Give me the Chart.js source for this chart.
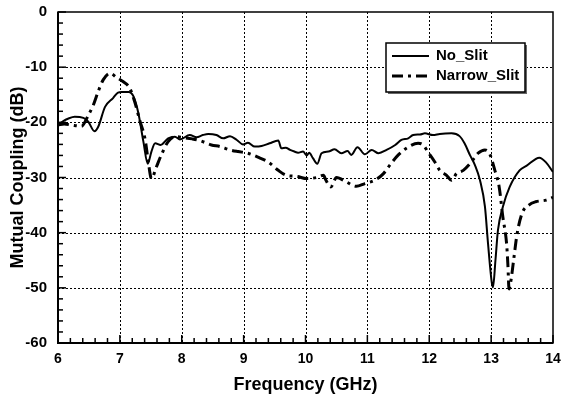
<!DOCTYPE html>
<html lang="en">
<head>
  <meta charset="UTF-8" />
  <title>Mutual Coupling</title>
  <script src="https://cdn.jsdelivr.net/npm/chart.js"></script>
  <style>
    html, body {
      margin: 0;
      padding: 0;
      background: #fff;
    }
  </style>
</head>
<body>
  <canvas id="couplingChart" width="563" height="402"></canvas>

  <script>
    const FREQ_TICKS = [6, 7, 8, 9, 10, 11, 12, 13, 14];
    const DB_TICKS = [0, -10, -20, -30, -40, -50, -60];
    const SERIES_NAMES = ['No_Slit', 'Narrow_Slit'];

    const noSlitFreq = [6.00, 6.08, 6.17, 6.27, 6.41, 6.49, 6.59, 6.65, 6.76, 6.89, 6.97, 7.03, 7.14, 7.22, 7.30, 7.38,
      7.45, 7.51, 7.57, 7.66, 7.78, 7.89, 7.97, 8.13, 8.24, 8.34, 8.43, 8.56, 8.67, 8.78, 8.89, 8.99,
      9.07, 9.18, 9.29, 9.42, 9.56, 9.61, 9.68, 9.75, 9.82, 9.88, 9.96, 10.02, 10.06, 10.12, 10.19, 10.26,
      10.37, 10.47, 10.58, 10.68, 10.74, 10.84, 10.96, 11.07, 11.18, 11.31, 11.45, 11.55, 11.66, 11.74, 11.85, 11.93,
      12.06, 12.17, 12.36, 12.49, 12.57, 12.66, 12.74, 12.82, 12.90, 12.95, 13.01, 13.03, 13.07, 13.11, 13.19, 13.30,
      13.46, 13.57, 13.78, 13.89, 14.00];
    const noSlitDb = [-20.5, -19.8, -19.3, -19.0, -19.2, -19.9, -21.6, -20.8, -17.2, -15.6, -14.6, -14.5, -14.5, -15.3, -18.4, -23.5,
      -27.5, -25.3, -23.8, -24.1, -22.9, -22.6, -23.1, -22.3, -22.7, -22.3, -22.1, -22.3, -22.9, -22.5, -23.2, -24.0,
      -23.7, -24.4, -24.3, -23.8, -23.3, -24.7, -24.6, -25.0, -25.3, -25.5, -25.3, -26.0, -25.5, -26.5, -27.5, -25.6,
      -25.3, -24.9, -25.6, -25.2, -25.9, -24.5, -25.8, -25.0, -25.6, -25.0, -24.1, -23.2, -22.9, -22.3, -22.2, -22.0,
      -22.3, -22.1, -22.0, -22.5, -23.8, -26.0, -27.8, -30.5, -35.3, -42.0, -49.0, -49.9, -45.0, -39.6, -35.3, -31.7,
      -28.7, -27.9, -26.4, -27.3, -29.0];

    const narrowFreq = [6.00, 6.10, 6.22, 6.38, 6.49, 6.57, 6.65, 6.73, 6.84, 6.95, 7.05, 7.16, 7.24, 7.32, 7.41, 7.46,
      7.51, 7.59, 7.67, 7.78, 7.89, 8.05, 8.17, 8.29, 8.48, 8.62, 8.78, 8.91, 9.07, 9.25, 9.40, 9.56,
      9.69, 9.86, 10.02, 10.18, 10.29, 10.33, 10.41, 10.50, 10.66, 10.82, 10.96, 11.12, 11.26, 11.36, 11.50, 11.63,
      11.82, 11.90, 11.98, 12.09, 12.17, 12.28, 12.36, 12.44, 12.55, 12.68, 12.79, 12.90, 12.98, 13.06, 13.13, 13.19,
      13.25, 13.27, 13.29, 13.32, 13.37, 13.42, 13.50, 13.61, 13.72, 13.89, 14.00];
    const narrowDb = [-20.5, -20.3, -20.5, -20.7, -18.7, -16.9, -14.4, -12.3, -11.1, -11.9, -12.6, -13.8, -16.3, -19.6, -23.2, -27.2,
      -30.2, -28.1, -25.9, -23.5, -22.6, -22.8, -23.0, -23.3, -24.1, -24.4, -25.0, -25.3, -25.6, -26.4, -27.2, -28.7,
      -29.6, -29.8, -30.2, -30.0, -29.6, -30.5, -31.7, -30.0, -30.8, -31.6, -31.1, -30.5, -29.3, -27.8, -25.9, -24.7,
      -23.8, -24.1, -25.4, -27.2, -28.7, -29.6, -30.5, -29.3, -28.7, -27.2, -25.6, -25.0, -25.8, -28.7, -31.7, -37.2,
      -42.0, -45.6, -50.2, -48.7, -44.4, -40.2, -36.5, -35.0, -34.4, -34.1, -33.6];

    const FONT = '"Liberation Sans", Arial, sans-serif';

    function toPoints(xs, ys) {
      return xs.map((x, i) => ({ x: x, y: ys[i] }));
    }

    // dotted grid under the curves, axes + inward ticks + legend on top
    const framePlugin = {
      id: 'frame',
      beforeDatasetsDraw(chart) {
        const { ctx, chartArea: a, scales } = chart;
        ctx.save();
        ctx.strokeStyle = '#000';
        ctx.lineWidth = 1;
        ctx.setLineDash([2, 2]);
        FREQ_TICKS.slice(1, -1).forEach(f => {
          const x = Math.round(scales.x.getPixelForValue(f)) + 0.5;
          ctx.beginPath();
          ctx.moveTo(x, a.top);
          ctx.lineTo(x, a.bottom);
          ctx.stroke();
        });
        DB_TICKS.slice(1, -1).forEach(v => {
          const y = Math.round(scales.y.getPixelForValue(v)) + 0.5;
          ctx.beginPath();
          ctx.moveTo(a.left, y);
          ctx.lineTo(a.right, y);
          ctx.stroke();
        });
        ctx.restore();
      },
      afterDatasetsDraw(chart) {
        const { ctx, chartArea: a, scales } = chart;
        ctx.save();
        ctx.strokeStyle = '#000';
        ctx.setLineDash([]);

        // frame
        ctx.lineWidth = 1.5;
        ctx.strokeRect(a.left, a.top, a.right - a.left, a.bottom - a.top);
        ctx.lineWidth = 2;
        ctx.beginPath();
        ctx.moveTo(a.left, a.top);
        ctx.lineTo(a.left, a.bottom);
        ctx.lineTo(a.right, a.bottom);
        ctx.stroke();

        // x ticks, minor every 0.2
        ctx.lineWidth = 1.5;
        for (let f = scales.x.min; f <= scales.x.max + 1e-6; f += 0.2) {
          const major = Math.abs(f - Math.round(f)) < 1e-6;
          const x = scales.x.getPixelForValue(f);
          ctx.beginPath();
          ctx.moveTo(x, a.bottom);
          ctx.lineTo(x, a.bottom - (major ? 8 : 5));
          ctx.stroke();
        }
        // y ticks, minor every 2
        for (let v = scales.y.min; v <= scales.y.max + 1e-6; v += 2) {
          const major = Math.abs(v % 10) < 1e-6;
          const y = scales.y.getPixelForValue(v);
          ctx.beginPath();
          ctx.moveTo(a.left, y);
          ctx.lineTo(a.left + (major ? 8 : 5), y);
          ctx.stroke();
        }

        // legend box
        const bx = 386, by = 43, bw = 139, bh = 49;
        ctx.fillStyle = '#666';
        ctx.fillRect(bx + 2, by + 2, bw, bh);
        ctx.fillStyle = '#fff';
        ctx.fillRect(bx, by, bw, bh);
        ctx.lineWidth = 1.5;
        ctx.strokeRect(bx, by, bw, bh);

        ctx.font = 'bold 15px ' + FONT;
        ctx.textBaseline = 'middle';
        ctx.fillStyle = '#000';
        chart.data.datasets.forEach((ds, i) => {
          const y = by + 13 + i * 20;
          ctx.lineWidth = ds.borderWidth;
          ctx.setLineDash(ds.borderDash || []);
          ctx.beginPath();
          ctx.moveTo(bx + 6, y);
          ctx.lineTo(bx + 43, y);
          ctx.stroke();
          ctx.setLineDash([]);
          ctx.fillText(ds.label, bx + 50, y);
        });
        ctx.restore();
      }
    };

    Chart.defaults.font.family = FONT;
    Chart.defaults.color = '#000';

    const ctx = document.getElementById('couplingChart').getContext('2d');
    const chart = new Chart(ctx, {
      type: 'line',
      data: {
        datasets: [
          {
            label: SERIES_NAMES[0],
            data: toPoints(noSlitFreq, noSlitDb),
            borderColor: '#000',
            borderWidth: 2,
            pointRadius: 0,
            cubicInterpolationMode: 'monotone',
            fill: false
          },
          {
            label: SERIES_NAMES[1],
            data: toPoints(narrowFreq, narrowDb),
            borderColor: '#000',
            borderWidth: 3,
            borderDash: [11, 5, 3, 5],
            pointRadius: 0,
            cubicInterpolationMode: 'monotone',
            fill: false
          }
        ]
      },
      options: {
        responsive: false,
        animation: false,
        devicePixelRatio: 1,
        layout: { padding: { top: 12, right: 10, left: 0, bottom: 0 } },
        plugins: {
          legend: { display: false },
          tooltip: { enabled: false }
        },
        scales: {
          x: {
            type: 'linear',
            min: 6,
            max: 14,
            afterBuildTicks: s => { s.ticks = FREQ_TICKS.map(v => ({ value: v })); },
            afterFit: s => {
              s.height = 59;
              s.paddingLeft = 0;
              s.paddingRight = 0;
            },
            grid: { display: false, drawTicks: false },
            border: { display: false },
            ticks: {
              padding: 8,
              maxRotation: 0,
              font: { size: 14, weight: 'bold' }
            },
            title: {
              display: true,
              text: 'Frequency (GHz)',
              font: { size: 18, weight: 'bold' },
              padding: { top: 0, bottom: 6 }
            }
          },
          y: {
            type: 'linear',
            min: -60,
            max: 0,
            afterBuildTicks: s => { s.ticks = DB_TICKS.map(v => ({ value: v })); },
            afterFit: s => {
              s.width = 58;
              s.paddingTop = 0;
              s.paddingBottom = 0;
            },
            grid: { display: false, drawTicks: false },
            border: { display: false },
            ticks: {
              padding: 11,
              font: { size: 15, weight: 'bold' }
            },
            title: {
              display: true,
              text: 'Mutual Coupling (dB)',
              font: { size: 18, weight: 'bold' },
              padding: { top: 7, bottom: 0 }
            }
          }
        }
      },
      plugins: [framePlugin]
    });
  </script>
</body>
</html>
